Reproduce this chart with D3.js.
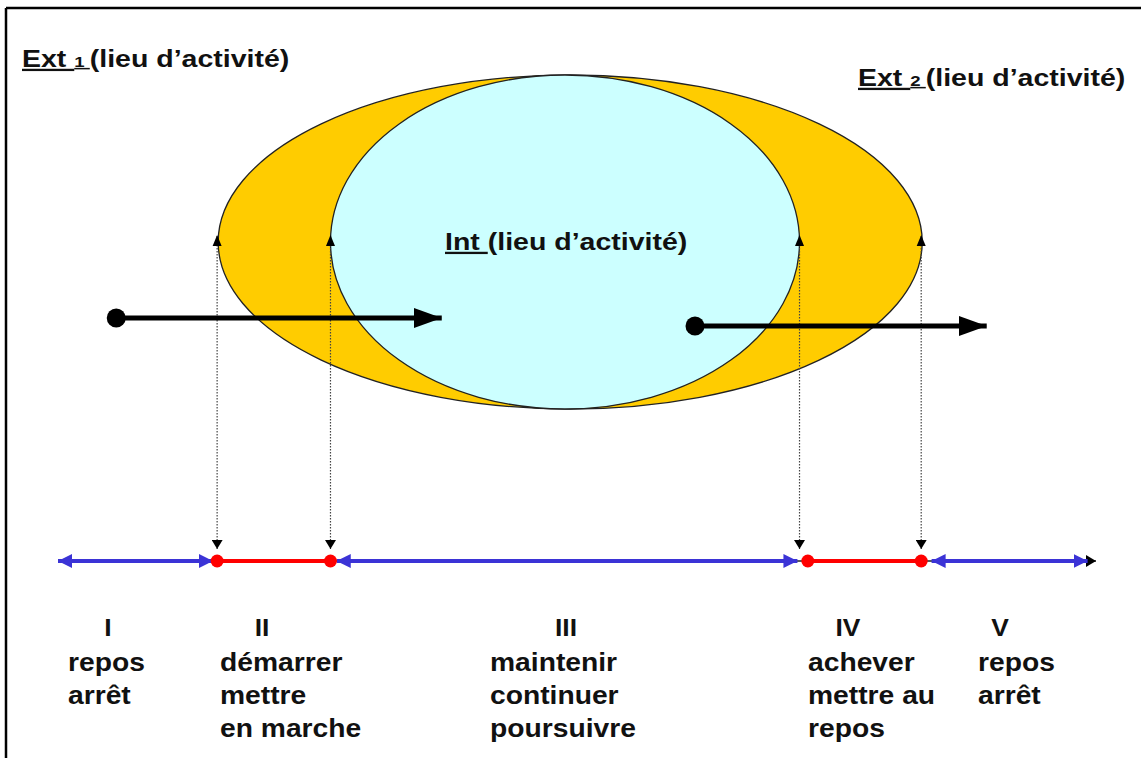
<!doctype html>
<html>
<head>
<meta charset="utf-8"/>
<title>Ext / Int - lieu d'activité</title>
<script src="https://cdnjs.cloudflare.com/ajax/libs/d3/7.8.5/d3.min.js"></script>
<style>
  body { margin: 0; background: #fff; }
  svg { display: block; font-family: "Liberation Sans", Arial, sans-serif; font-weight: bold; }
</style>
</head>
<body>
<svg id="chart" width="1141" height="758"></svg>
<script>
// time axis runs 0..100 (left to right)
var boundaries = [15.3, 26.2, 71.3, 83.0];            // dotted projection lines
var blueSegments = [[0, 14.9], [26.8, 71.1], [84.0, 99.0]];
var redSegments = [[15.3, 26.2], [72.1, 83.0]];
var outerEllipse = [15.4, 83.1];                       // Ext zone (orange)
var innerEllipse = [26.2, 71.3];                       // Int zone (cyan)
var moves = [[5.6, 36.9], [61.25, 89.3]];              // entry / exit arrows

var numerals = ["I", "II", "III", "IV", "V"];
var phaseWords = [
  ["repos", "arrêt"],
  ["démarrer", "mettre", "en marche"],
  ["maintenir", "continuer", "poursuivre"],
  ["achever", "mettre au", "repos"],
  ["repos", "arrêt"]
];
var numeralX = [108, 262, 566, 848, 1000];
var wordsX = [68, 220, 490, 808, 978];

var svg = d3.select("#chart");
var x = d3.scaleLinear().domain([0, 100]).range([58, 1098]);
var axisY = 561, ellY = 242, ellRy = 167;
var moveY = [318, 326];

// frame
svg.append("line").attr("x1", 6).attr("y1", 8).attr("x2", 1141).attr("y2", 8)
  .attr("stroke", "#000").attr("stroke-width", 2.5);
svg.append("line").attr("x1", 6).attr("y1", 8).attr("x2", 6).attr("y2", 758)
  .attr("stroke", "#000").attr("stroke-width", 2.5);

var defs = svg.append("defs");
function marker(id, color, w, h, reverse) {
  defs.append("marker").attr("id", id)
    .attr("markerUnits", "userSpaceOnUse")
    .attr("viewBox", "0 0 " + w + " " + h)
    .attr("markerWidth", w).attr("markerHeight", h)
    .attr("refX", reverse ? 0 : w).attr("refY", h / 2)
    .attr("orient", "auto")
    .append("path")
    .attr("d", reverse ? "M" + w + ",0L0," + h / 2 + "L" + w + "," + h + "Z"
                       : "M0,0L" + w + "," + h / 2 + "L0," + h + "Z")
    .attr("fill", color);
}
marker("blueEnd", "#3b33d6", 14, 14, false);
marker("blueStart", "#3b33d6", 14, 14, true);
marker("blackEnd", "#000", 10, 12, false);
marker("smallEnd", "#000", 9, 11, false);
marker("moveEnd", "#000", 28, 20, false);

// ellipses
svg.append("ellipse")
  .attr("cx", (x(outerEllipse[0]) + x(outerEllipse[1])) / 2).attr("cy", ellY)
  .attr("rx", (x(outerEllipse[1]) - x(outerEllipse[0])) / 2).attr("ry", ellRy)
  .attr("fill", "#ffcc00").attr("stroke", "#222").attr("stroke-width", 1.3);
svg.append("ellipse")
  .attr("cx", (x(innerEllipse[0]) + x(innerEllipse[1])) / 2).attr("cy", ellY)
  .attr("rx", (x(innerEllipse[1]) - x(innerEllipse[0])) / 2).attr("ry", ellRy)
  .attr("fill", "#ccffff").attr("stroke", "#222").attr("stroke-width", 1.3);

// dotted projection lines, arrow both ways
svg.selectAll(".proj").data(boundaries).enter().append("line")
  .attr("class", "proj")
  .attr("x1", function(d) { return x(d); }).attr("x2", function(d) { return x(d); })
  .attr("y1", 236).attr("y2", 549)
  .attr("stroke", "#444").attr("stroke-width", 1.2)
  .attr("stroke-dasharray", "1.5,1.5")
  .attr("marker-end", "url(#smallEnd)");
// up arrowheads
svg.selectAll(".projUp").data(boundaries).enter().append("path")
  .attr("class", "projUp")
  .attr("d", function(d) { var px = x(d); return "M" + (px - 4.5) + ",246L" + px + ",235L" + (px + 4.5) + ",246Z"; })
  .attr("fill", "#000");

// axis base line
svg.append("line").attr("x1", x(0)).attr("x2", x(100) - 2)
  .attr("y1", axisY).attr("y2", axisY)
  .attr("stroke", "#222").attr("stroke-width", 1.5)
  .attr("marker-end", "url(#blackEnd)");

svg.selectAll(".blue").data(blueSegments).enter().append("line")
  .attr("class", "blue")
  .attr("x1", function(d) { return x(d[0]); }).attr("x2", function(d) { return x(d[1]); })
  .attr("y1", axisY).attr("y2", axisY)
  .attr("stroke", "#3b33d6").attr("stroke-width", 4)
  .attr("marker-start", "url(#blueStart)").attr("marker-end", "url(#blueEnd)");

svg.selectAll(".red").data(redSegments).enter().append("line")
  .attr("class", "red")
  .attr("x1", function(d) { return x(d[0]); }).attr("x2", function(d) { return x(d[1]); })
  .attr("y1", axisY).attr("y2", axisY)
  .attr("stroke", "#ff0000").attr("stroke-width", 4);
svg.selectAll(".dot").data(d3.merge(redSegments)).enter().append("circle")
  .attr("class", "dot")
  .attr("cx", function(d) { return x(d); }).attr("cy", axisY).attr("r", 6.5)
  .attr("fill", "#ff0000");

// entry / exit arrows
svg.selectAll(".move").data(moves).enter().append("line")
  .attr("class", "move")
  .attr("x1", function(d) { return x(d[0]); }).attr("x2", function(d) { return x(d[1]); })
  .attr("y1", function(d, i) { return moveY[i]; }).attr("y2", function(d, i) { return moveY[i]; })
  .attr("stroke", "#000").attr("stroke-width", 5)
  .attr("marker-end", "url(#moveEnd)");
svg.selectAll(".moveDot").data(moves).enter().append("circle")
  .attr("class", "moveDot")
  .attr("cx", function(d) { return x(d[0]); })
  .attr("cy", function(d, i) { return moveY[i]; })
  .attr("r", 9.5).attr("fill", "#000");

// place labels
function label(px, py, size, sx, anchor) {
  return svg.append("text")
    .attr("transform", "translate(" + px + "," + py + ") scale(" + sx + ",1)")
    .attr("text-anchor", anchor || "start")
    .attr("font-size", size).attr("fill", "#111");
}
function placeLabel(px, py, head, sub) {
  var t = label(px, py, 23, 1.24);
  t.append("tspan").attr("text-decoration", "underline").text(head + " ");
  if (sub) t.append("tspan").attr("text-decoration", "underline").attr("font-size", 15).text(sub + " ");
  t.append("tspan").text("(lieu d’activité)");
}
placeLabel(22, 67, "Ext", "1");
placeLabel(858, 86, "Ext", "2");
placeLabel(445, 250, "Int", null);

// phase labels
numerals.forEach(function(n, i) {
  label(numeralX[i], 636, 24, 1.1, "middle").text(n);
  phaseWords[i].forEach(function(w, j) {
    label(wordsX[i], 671 + j * 33, 25, 1.13).text(w);
  });
});
</script>
</body>
</html>
